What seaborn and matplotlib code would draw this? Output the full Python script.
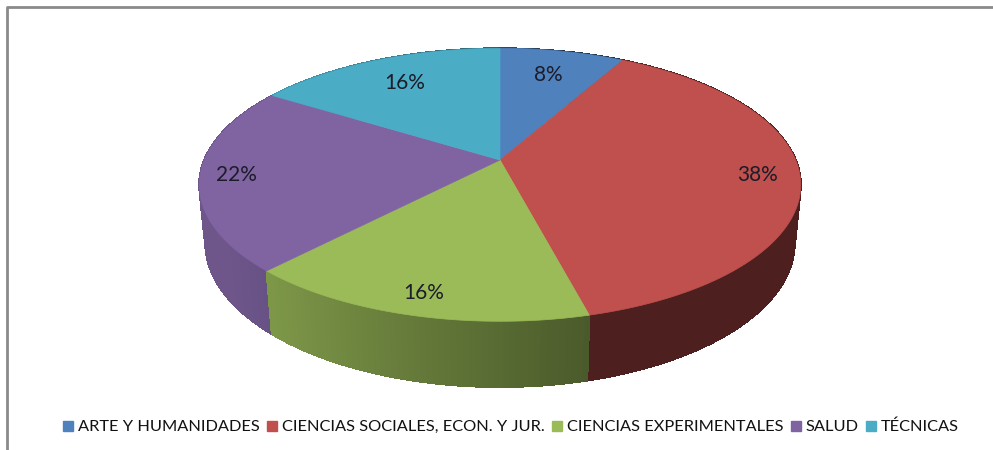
#!/usr/bin/env python3

import numpy as np
import matplotlib
matplotlib.use('Agg')
import matplotlib.pyplot as plt
import seaborn as sns
from matplotlib.lines import Line2D
from matplotlib.colors import to_rgb
from matplotlib.collections import PolyCollection

# data
categories = ['ARTE Y HUMANIDADES', 'CIENCIAS SOCIALES, ECON. Y JUR.',
	'CIENCIAS EXPERIMENTALES', 'SALUD', 'TÉCNICAS']
percent = [8, 38, 16, 22, 16]
colors = ['#4F81BD', '#C0504D', '#9BBB59', '#8064A2', '#4BACC6']

# 3d view (pixel coords of the figure)
CX, CY = 500, 160
FOCAL = 1455
DIST = 4.92
ALPHA = np.radians(26.5)
THICK = 0.22
LABEL_R = [0.75, 0.86, 0.88, 0.88, 0.75]

def project(u, v, z=0.0):
	s, c = np.sin(ALPHA), np.cos(ALPHA)
	yc = v * s + z * c
	dc = DIST + v * c - z * s
	return CX + FOCAL * u / dc, CY - FOCAL * yc / dc

def shade(col, f):
	r, g, b = to_rgb(col)
	return (r * f, g * f, b * f)

def side_factor(u):
	# light comes from the left
	if u >= 0.25:
		return 0.40
	return min(0.86, 0.48 + 0.33 * (0.25 - u) / 0.93)

def main():
	sns.set_theme(style='white')
	plt.rcParams['font.family'] = ['Lato', 'DejaVu Sans']
	pal = sns.color_palette(colors)

	fig = plt.figure(figsize=(9.93, 4.5), dpi=100)
	ax = fig.add_axes([0, 0, 1, 1])
	ax.set_xlim(0, 993)
	ax.set_ylim(450, 0)
	ax.axis('off')

	# frame
	ax.plot([7, 7, 993], [450, 7, 7], color='#8a8a8a', lw=2, solid_capstyle='butt')

	total = float(sum(percent))
	bounds = np.concatenate([[0], np.cumsum(percent)]) / total * 2 * np.pi

	# side walls, far to near
	quads = []
	for i in range(len(percent)):
		a0, a1 = bounds[i], bounds[i + 1]
		n = max(4, int(np.degrees(a1 - a0)))
		t = np.linspace(a0, a1, n + 1)
		for k in range(n):
			ta, tb = t[k], t[k + 1]
			ua, va = np.sin(ta), np.cos(ta)
			ub, vb = np.sin(tb), np.cos(tb)
			p = [project(ua, va, 0), project(ub, vb, 0),
				project(ub, vb, -THICK), project(ua, va, -THICK)]
			f = side_factor(np.sin((ta + tb) / 2))
			quads.append((-(va + vb) / 2, p, shade(pal[i], f)))
	quads.sort(key=lambda q: q[0])
	coll = PolyCollection([q[1] for q in quads], facecolors=[q[2] for q in quads],
		edgecolors=[q[2] for q in quads], linewidths=0.8, antialiaseds=False)
	ax.add_collection(coll)

	# top faces
	for i in range(len(percent)):
		t = np.linspace(bounds[i], bounds[i + 1], 120)
		xs, ys = project(np.sin(t), np.cos(t))
		xs = np.concatenate([[CX], xs])
		ys = np.concatenate([[CY], ys])
		ax.fill(xs, ys, color=pal[i], lw=0.5, ec=pal[i])

	# labels
	for i, val in enumerate(percent):
		m = (bounds[i] + bounds[i + 1]) / 2
		r = LABEL_R[i]
		x, y = project(r * np.sin(m), r * np.cos(m))
		ax.text(x, y, '{0}%'.format(val), ha='center', va='center',
			fontsize=15, color='#1c1c2a')

	handles = [Line2D([], [], marker='s', linestyle='', color=pal[i], markersize=7.5)
		for i in range(len(categories))]
	fig.legend(handles, categories, loc='center', bbox_to_anchor=(0.513, 1 - 427 / 450.0),
		ncol=5, frameon=False, fontsize=11.8, handletextpad=0.1, columnspacing=0.25,
		handlelength=1.0, labelcolor='#111111')

	fig.savefig('out.png', dpi=100)

if __name__ == '__main__':
	main()
